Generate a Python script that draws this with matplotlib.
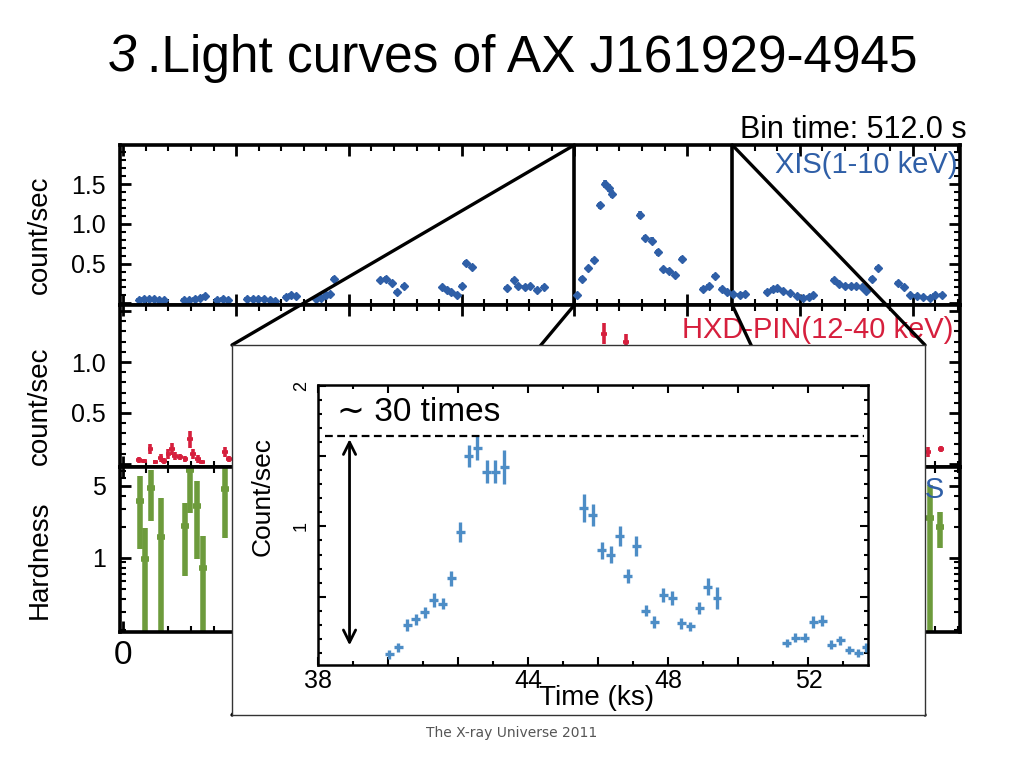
import numpy as np
import matplotlib
matplotlib.use('Agg')
import matplotlib.pyplot as plt
from matplotlib.ticker import MultipleLocator, LogLocator, NullFormatter, FuncFormatter
from matplotlib.patches import ConnectionPatch

plt.rcParams['font.family'] = ['Liberation Sans', 'DejaVu Sans']

title_num = "3"
title = ".Light curves of AX J161929-4945"
footer = "The X-ray Universe 2011"

# XIS 1-10 keV, 512 s bins (ks, count/sec)
bin_time_ks = 0.512
xis_t = [1.36, 1.8, 2.24, 2.69, 3.13, 3.57,
         5.35, 5.85, 6.36, 6.83, 7.21,
         8.3, 8.8, 9.25,
         10.97, 11.46, 11.97, 12.47, 12.97, 13.48,
         14.4, 14.9, 15.3,
         17.1, 17.5, 18.0, 18.35, 18.7,
         22.8, 23.3, 23.8, 24.3, 24.85,
         28.3, 28.7, 29.1, 29.6, 30.0, 30.4, 30.9,
         34.0, 34.6, 35.0, 35.6, 36.1, 36.7, 37.3,
         40.2, 40.7, 41.25, 41.76, 42.3, 42.7, 43.1, 43.3,
         45.8, 46.3, 46.9, 47.4, 47.9, 48.4, 48.9, 49.5,
         51.4, 51.9, 52.5, 53.1, 53.5, 54.1, 54.7, 55.1,
         57.1, 57.6, 58.0, 58.5, 59.1, 59.7, 60.3, 60.8, 61.2,
         63.0, 63.5, 64.0, 64.5, 65.0, 65.5, 65.9, 66.4, 66.9,
         68.7, 69.2, 69.8, 70.4, 70.9, 71.5, 72.0, 72.6]
xis_v = [0.04, 0.05, 0.05, 0.05, 0.04, 0.04,
         0.04, 0.04, 0.06, 0.07, 0.09,
         0.04, 0.05, 0.04,
         0.06, 0.05, 0.05, 0.05, 0.04, 0.03,
         0.08, 0.10, 0.09,
         0.05, 0.07, 0.10, 0.12, 0.31,
         0.29, 0.31, 0.26, 0.14, 0.22,
         0.20, 0.17, 0.14, 0.11, 0.22, 0.51, 0.46,
         0.19, 0.29, 0.22, 0.20, 0.22, 0.17, 0.20,
         0.11, 0.31, 0.44, 0.54, 1.23, 1.50, 1.45, 1.38,
         1.11, 0.82, 0.79, 0.64, 0.43, 0.41, 0.36, 0.56,
         0.18, 0.22, 0.34, 0.18, 0.14, 0.12, 0.10, 0.12,
         0.14, 0.18, 0.19, 0.16, 0.13, 0.09, 0.07, 0.08, 0.10,
         0.29, 0.24, 0.22, 0.22, 0.22, 0.20, 0.16, 0.31, 0.44,
         0.26, 0.20, 0.10, 0.09, 0.08, 0.07, 0.11, 0.11]
xis_err = [0.02, 0.02, 0.02, 0.02, 0.02, 0.02,
           0.02, 0.02, 0.02, 0.02, 0.02,
           0.02, 0.02, 0.02,
           0.02, 0.02, 0.02, 0.02, 0.02, 0.02,
           0.02, 0.02, 0.02,
           0.02, 0.02, 0.02, 0.02, 0.03,
           0.03, 0.03, 0.03, 0.02, 0.03,
           0.02, 0.02, 0.02, 0.02, 0.03, 0.03, 0.03,
           0.02, 0.03, 0.02, 0.02, 0.02, 0.02, 0.02,
           0.02, 0.03, 0.03, 0.03, 0.05, 0.05, 0.05, 0.05,
           0.05, 0.04, 0.04, 0.04, 0.03, 0.03, 0.03, 0.04,
           0.02, 0.02, 0.03, 0.02, 0.02, 0.02, 0.02, 0.02,
           0.02, 0.02, 0.02, 0.02, 0.02, 0.02, 0.02, 0.02, 0.02,
           0.03, 0.02, 0.02, 0.02, 0.02, 0.02, 0.02, 0.03, 0.03,
           0.02, 0.02, 0.02, 0.02, 0.02, 0.02, 0.02, 0.02]

# HXD-PIN 12-40 keV
pin_t = [1.36, 1.8, 2.4, 2.84, 3.3, 3.6, 4.0, 4.3, 4.6, 5.05, 5.5, 5.9, 6.2, 6.6, 7.0,
         9.0, 9.4, 42.6, 44.6, 71.4, 72.5]
pin_v = [0.04, 0.03, 0.15, 0.02, 0.06, 0.03, 0.10, 0.15, 0.08, 0.07, 0.05, 0.24, 0.10, 0.05, 0.02,
         0.12, 0.05, 1.28, 1.20, 0.12, 0.15]
pin_err = [0.03, 0.02, 0.05, 0.02, 0.04, 0.03, 0.05, 0.06, 0.04, 0.03, 0.03, 0.08, 0.05, 0.04, 0.02,
           0.05, 0.03, 0.10, 0.08, 0.05, 0.03]

# hardness ratio
hr_t = [1.45, 1.9, 2.45, 3.37, 5.5, 5.94, 6.53, 7.1, 9.04, 71.5, 72.4]
hr_v = [3.58, 0.97, 4.75, 1.59, 2.01, 7.15, 3.15, 0.80, 4.65, 2.43, 1.97]
hr_lo = [1.21, 0.10, 2.25, 0.10, 0.67, 2.72, 0.97, 0.10, 1.55, 0.10, 1.24]
hr_hi = [6.15, 1.94, 7.15, 3.80, 3.40, 7.40, 5.50, 1.61, 7.70, 5.10, 2.77]

# zoomed flare, 256 s bins
ins_bin_ks = 0.256
ins_t = [40.04, 40.29, 40.55, 40.79, 41.05, 41.31, 41.56, 41.8, 42.06, 42.3, 42.55, 42.82, 43.06, 43.31,
         45.59, 45.84, 46.1, 46.35, 46.61, 46.84, 47.09, 47.35, 47.6, 47.86, 48.11, 48.37, 48.62, 48.88,
         49.13, 49.39,
         51.38, 51.63, 51.89, 52.14, 52.4, 52.65, 52.91, 53.16, 53.42, 53.65]
ins_v = [0.09, 0.14, 0.30, 0.34, 0.39, 0.48, 0.45, 0.63, 0.96, 1.50, 1.56, 1.39, 1.39, 1.42,
         1.13, 1.08, 0.83, 0.80, 0.93, 0.65, 0.86, 0.40, 0.32, 0.51, 0.49, 0.31, 0.29, 0.42,
         0.57, 0.49,
         0.17, 0.21, 0.21, 0.32, 0.33, 0.16, 0.19, 0.12, 0.10, 0.14]
ins_err = [0.03, 0.03, 0.04, 0.04, 0.04, 0.05, 0.04, 0.05, 0.07, 0.08, 0.09, 0.08, 0.08, 0.12,
           0.10, 0.08, 0.06, 0.06, 0.07, 0.05, 0.07, 0.04, 0.04, 0.05, 0.05, 0.04, 0.03, 0.04,
           0.06, 0.08,
           0.03, 0.03, 0.03, 0.04, 0.04, 0.03, 0.03, 0.03, 0.03, 0.03]
peak_level = 1.64
base_level = 0.135
arrow_t = 38.9
zoom_lo, zoom_hi = 40.0, 54.0

xis_color = '#2f5fa7'
pin_color = '#d61f3d'
hr_color = '#6d9b3c'
ins_color = '#4d8dc6'

fig = plt.figure(figsize=(10.24, 7.68), dpi=100)


def fx(px):
    return px / 1024.0


def fy(py):
    return 1 - py / 768.0


ax_top = fig.add_axes([fx(120), fy(305), fx(840), fy(145) - fy(305)])
ax_mid = fig.add_axes([fx(120), fy(467), fx(840), fy(305) - fy(467)])
ax_bot = fig.add_axes([fx(120), fy(632), fx(840), fy(467) - fy(632)])

for ax in (ax_top, ax_mid, ax_bot):
    for sp in ax.spines.values():
        sp.set_linewidth(2.6)
    ax.set_xlim(-0.3, 74.2)
    ax.xaxis.set_major_locator(MultipleLocator(10))
    ax.xaxis.set_minor_locator(MultipleLocator(2))
    ax.tick_params(which='both', direction='in', top=True, right=True, labelsize=18, pad=10)
    ax.tick_params(which='major', length=8, width=2)
    ax.tick_params(which='minor', length=4, width=1.5)
    ax.tick_params(axis='x', labelbottom=False)

ax_top.errorbar(xis_t, xis_v, xerr=bin_time_ks / 2, yerr=xis_err, fmt='D', ms=4,
                color=xis_color, ecolor=xis_color, elinewidth=2.6, capsize=0)
ax_top.set_ylim(-0.02, 1.99)
ax_top.set_yticks([0, 0.5, 1.0, 1.5])
ax_top.set_yticklabels(['', '0.5', '1.0', '1.5'])
ax_top.yaxis.set_minor_locator(MultipleLocator(0.1))
ax_top.set_ylabel('count/sec', fontsize=20)
ax_top.yaxis.set_label_coords(-0.08, 0.44)
ax_top.text(0.997, 0.875, 'XIS(1-10 keV)', transform=ax_top.transAxes, ha='right', va='center',
            color=xis_color, fontsize=21)
ax_top.axvline(zoom_lo, color='k', lw=2.6)
ax_top.axvline(zoom_hi, color='k', lw=2.6)

ax_mid.errorbar(pin_t, pin_v, xerr=bin_time_ks / 2, yerr=pin_err, fmt='none',
                ecolor=pin_color, elinewidth=2.6, capsize=0)
ax_mid.set_ylim(-0.03, 1.56)
ax_mid.set_yticks([0, 0.5, 1.0, 1.5])
ax_mid.set_yticklabels(['', '0.5', '1.0', ''])
ax_mid.yaxis.set_minor_locator(MultipleLocator(0.1))
ax_mid.set_ylabel('count/sec', fontsize=20)
ax_mid.yaxis.set_label_coords(-0.08, 0.38)
ax_mid.text(0.992, 0.845, 'HXD-PIN(12-40 keV)', transform=ax_mid.transAxes, ha='right', va='center',
            color=pin_color, fontsize=21)

hv = np.array(hr_v)
ax_bot.errorbar(hr_t, hr_v, xerr=0.35, yerr=[hv - np.array(hr_lo), np.array(hr_hi) - hv], fmt='none',
                ecolor=hr_color, elinewidth=4.0, capsize=0)
ax_bot.set_yscale('log')
ax_bot.set_ylim(0.19, 7.6)
ax_bot.set_yticks([1, 5])
ax_bot.set_yticklabels(['1', '5'])
ax_bot.yaxis.set_minor_locator(LogLocator(subs=np.arange(2, 10)))
ax_bot.yaxis.set_minor_formatter(NullFormatter())
ax_bot.set_ylabel('Hardness', fontsize=20)
ax_bot.yaxis.set_label_coords(-0.08, 0.44)
ax_bot.tick_params(axis='x', labelbottom=True, labelsize=24, pad=6)
ax_bot.xaxis.set_major_formatter(FuncFormatter(lambda v, p: '0' if abs(v) < 1e-9 else ''))
ax_bot.text(0.982, 0.86, 'PIN/XIS', transform=ax_bot.transAxes, ha='right', va='center',
            color=xis_color, fontsize=21)

# white box holding the zoomed light curve
frame_ax = fig.add_axes([fx(232), fy(715), fx(693), fy(345) - fy(715)], zorder=5)
frame_ax.set_xticks([])
frame_ax.set_yticks([])
for sp in frame_ax.spines.values():
    sp.set_linewidth(1.0)
    sp.set_color('#333333')

y0, y1 = ax_top.get_ylim()
for xa, xb in ((zoom_lo, 0), (zoom_hi, 1)):
    fig.add_artist(ConnectionPatch(xyA=(xa, y1), coordsA=ax_top.transData, xyB=(xb, 1),
                                   coordsB=frame_ax.transAxes, color='k', lw=2.4, zorder=4))
    fig.add_artist(ConnectionPatch(xyA=(xa, y0), coordsA=ax_top.transData, xyB=(xb, 0),
                                   coordsB=frame_ax.transAxes, color='k', lw=2.4, zorder=4))

ax_in = fig.add_axes([fx(318), fy(665), fx(550), fy(385) - fy(665)], zorder=6)
ax_in.errorbar(ins_t, ins_v, xerr=ins_bin_ks / 2, yerr=ins_err, fmt='none',
               ecolor=ins_color, elinewidth=2.4, capsize=0)
ax_in.set_xlim(38, 53.7)
ax_in.set_ylim(0.015, 2.005)
for sp in ax_in.spines.values():
    sp.set_linewidth(1.8)
ax_in.set_xticks(np.arange(38, 54, 2))
ax_in.set_xticklabels(['38', '', '', '44', '', '48', '', '52'])
ax_in.xaxis.set_minor_locator(MultipleLocator(1))
ax_in.set_yticks([0.5, 1.0, 1.5, 2.0])
ax_in.set_yticklabels(['', '1', '', '2'], rotation=90, va='center')
ax_in.yaxis.set_minor_locator(MultipleLocator(0.1))
ax_in.tick_params(which='both', direction='in', top=True, right=True, width=1.5)
ax_in.tick_params(which='major', length=6)
ax_in.tick_params(which='minor', length=3)
ax_in.tick_params(axis='x', labelsize=18, pad=3)
ax_in.tick_params(axis='y', labelsize=13, pad=6)
ax_in.set_xlabel('Time (ks)', fontsize=20)
ax_in.xaxis.set_label_coords(0.507, -0.07)
ax_in.set_ylabel('Count/sec', fontsize=19)
ax_in.yaxis.set_label_coords(-0.078, 0.6)

ax_in.hlines(peak_level, 38.2, 53.6, colors='k', linestyles=(0, (3.5, 2)), lw=1.6)
ax_in.annotate('', xy=(arrow_t, base_level), xytext=(arrow_t, peak_level),
               arrowprops=dict(arrowstyle='<->', color='k', lw=2.0, mutation_scale=22))
ax_in.text(38.55, 1.81, '\u223c 30 times', fontsize=24, ha='left', va='center')

fig.text(fx(108), fy(72), title_num, fontsize=37, style='italic', ha='left', va='baseline')
fig.text(fx(147), fy(72), title, fontsize=37, ha='left', va='baseline')
fig.text(fx(967), fy(130), 'Bin time: 512.0 s', fontsize=22, ha='right', va='center')
fig.text(0.5, fy(733), footer, fontsize=10, color='#555555', ha='center', va='center',
         family='DejaVu Sans')

fig.savefig('out.png', dpi=100)
